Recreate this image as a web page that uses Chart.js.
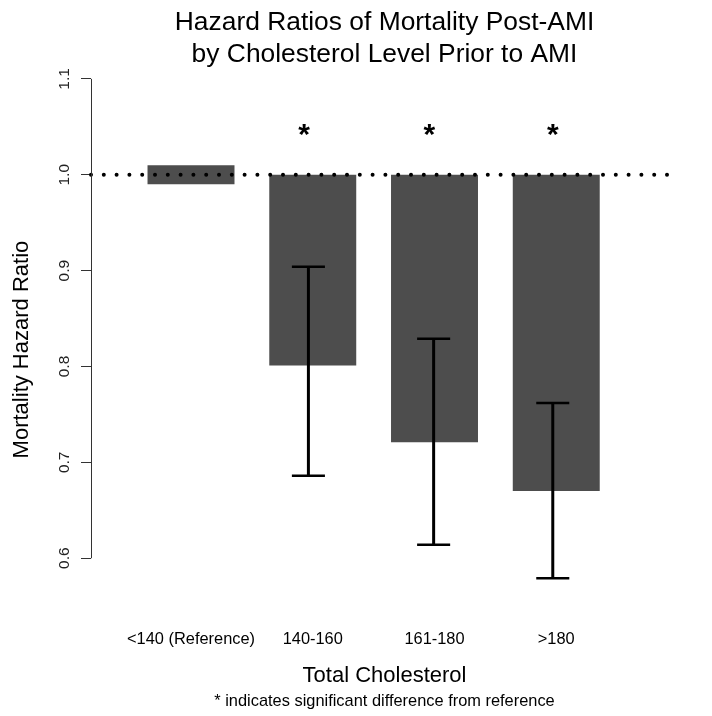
<!DOCTYPE html>
<html>
<head>
<meta charset="utf-8">
<title>Hazard Ratios of Mortality Post-AMI</title>
<script src="https://cdn.jsdelivr.net/npm/chart.js@4"></script>
<style>
  html, body { margin: 0; padding: 0; background: #fff; }
  #wrap { width: 712px; height: 716px; position: relative; }
</style>
</head>
<body>
<div id="wrap"><canvas id="chart"></canvas></div>
<script>
  // Datos
  const CATEGORIES = ["<140 (Reference)", "140-160", "161-180", ">180"];
  const BAR_X = [0.9, 2.3, 3.7, 5.1];
  const BAR_LOW = [0.99, 0.801, 0.721, 0.67];
  const BAR_HIGH = [1.01, 1.0, 1.0, 1.0];
  const ERR_X = [null, 2.25, 3.69, 5.06];
  const ERR_LOW = [null, 0.686, 0.614, 0.579];
  const ERR_HIGH = [null, 0.904, 0.829, 0.762];
  const STAR_X = [null, 2.2, 3.64, 5.06];
  const STAR_Y = 1.0405;
  const Y_TICKS = [0.6, 0.7, 0.8, 0.9, 1.0, 1.1];
  const REF_LINE = 1.0;
  const X_RANGE = [-0.25, 6.5];
  const Y_RANGE = [0.528, 1.1073];

  const TITLE = ["Hazard Ratios of Mortality Post-AMI", "by Cholesterol Level Prior to AMI"];
  const X_TITLE = "Total Cholesterol";
  const Y_TITLE = "Mortality Hazard Ratio";
  const FOOTNOTE = "* indicates significant difference from reference";

  const FONT = "'Liberation Sans', Arial, Helvetica, sans-serif";
  const CAP_HALF = 0.19; // semiancho del remate, en unidades de x

  Chart.defaults.font.family = FONT;
  Chart.defaults.color = "#000";

  const overlay = {
    id: "overlay",
    afterDatasetsDraw(chart) {
      const { ctx, chartArea, scales } = chart;
      const x = scales.x;
      const y = scales.y;
      ctx.save();

      // línea de referencia punteada
      const yr = y.getPixelForValue(REF_LINE);
      ctx.strokeStyle = "#000";
      ctx.lineWidth = 4;
      ctx.lineCap = "round";
      ctx.setLineDash([0, 12.8]);
      ctx.beginPath();
      ctx.moveTo(chartArea.left, yr);
      ctx.lineTo(chartArea.right, yr);
      ctx.stroke();
      ctx.setLineDash([]);

      // barras de error
      ctx.lineCap = "butt";
      ERR_X.forEach((ex, i) => {
        if (ex == null) return;
        const px = x.getPixelForValue(ex);
        const pl = x.getPixelForValue(ex - CAP_HALF);
        const pr = x.getPixelForValue(ex + CAP_HALF);
        const yl = y.getPixelForValue(ERR_LOW[i]);
        const yh = y.getPixelForValue(ERR_HIGH[i]);
        ctx.lineWidth = 3;
        ctx.beginPath();
        ctx.moveTo(px, yl);
        ctx.lineTo(px, yh);
        ctx.stroke();
        ctx.lineWidth = 2.5;
        ctx.beginPath();
        ctx.moveTo(pl, yl);
        ctx.lineTo(pr, yl);
        ctx.moveTo(pl, yh);
        ctx.lineTo(pr, yh);
        ctx.stroke();
      });

      // asteriscos de significancia
      ctx.fillStyle = "#000";
      ctx.font = `bold 30px ${FONT}`;
      ctx.textAlign = "center";
      ctx.textBaseline = "middle";
      STAR_X.forEach((sx) => {
        if (sx == null) return;
        ctx.fillText("*", x.getPixelForValue(sx), y.getPixelForValue(STAR_Y));
      });

      // eje y sólo entre el primer y el último tick
      const ax = Math.floor(chartArea.left) + 0.5;
      ctx.strokeStyle = "#333";
      ctx.lineWidth = 1;
      ctx.beginPath();
      ctx.moveTo(ax, y.getPixelForValue(Y_TICKS[0]));
      ctx.lineTo(ax, y.getPixelForValue(Y_TICKS[Y_TICKS.length - 1]));
      ctx.stroke();

      ctx.restore();
    },
  };

  new Chart(document.getElementById("chart"), {
    type: "bar",
    data: {
      datasets: [
        {
          data: BAR_X.map((bx, i) => ({ x: bx, y: [BAR_LOW[i], BAR_HIGH[i]] })),
          backgroundColor: "#4d4d4d",
          borderWidth: 0,
          categoryPercentage: 1,
          barPercentage: 1 / 1.4,
        },
      ],
    },
    options: {
      responsive: true,
      maintainAspectRatio: false,
      animation: false,
      layout: { padding: { left: 0, right: 34, top: 0, bottom: 0 } },
      plugins: {
        legend: { display: false },
        tooltip: { enabled: false },
        title: {
          display: true,
          fullSize: false,
          text: TITLE,
          color: "#000",
          font: { size: 26.4, weight: "normal", lineHeight: 1.21 },
          padding: { top: 7, bottom: 1 },
        },
        subtitle: {
          display: true,
          fullSize: false,
          position: "bottom",
          text: FOOTNOTE,
          color: "#000",
          font: { size: 16.4, weight: "normal", lineHeight: 1.2 },
          padding: { top: 0, bottom: 5 },
        },
      },
      scales: {
        x: {
          type: "linear",
          offset: false,
          min: X_RANGE[0],
          max: X_RANGE[1],
          afterBuildTicks: (axis) => {
            axis.ticks = BAR_X.map((v) => ({ value: v }));
          },
          grid: { display: false, drawTicks: false, offset: false },
          border: { display: false },
          ticks: {
            autoSkip: false,
            minRotation: 0,
            maxRotation: 0,
            padding: 2.5,
            color: "#000",
            font: { size: 16.4 },
            callback: (v, i) => CATEGORIES[i],
          },
          title: {
            display: true,
            text: X_TITLE,
            color: "#000",
            font: { size: 22 },
            padding: { top: 11, bottom: 2 },
          },
        },
        y: {
          min: Y_RANGE[0],
          max: Y_RANGE[1],
          afterBuildTicks: (axis) => {
            axis.ticks = Y_TICKS.map((v) => ({ value: v }));
          },
          grid: { drawOnChartArea: false, drawTicks: true, tickLength: 10, color: "#333" },
          border: { display: false },
          ticks: {
            minRotation: 90,
            maxRotation: 90,
            crossAlign: "center",
            padding: 5.75,
            color: "#222",
            font: { size: 15.5 },
            callback: (v) => v.toFixed(1),
          },
          title: {
            display: true,
            text: Y_TITLE,
            color: "#000",
            font: { size: 22 },
            padding: { top: 9, bottom: 15.5 },
          },
        },
      },
    },
    plugins: [overlay],
  });
</script>
</body>
</html>
